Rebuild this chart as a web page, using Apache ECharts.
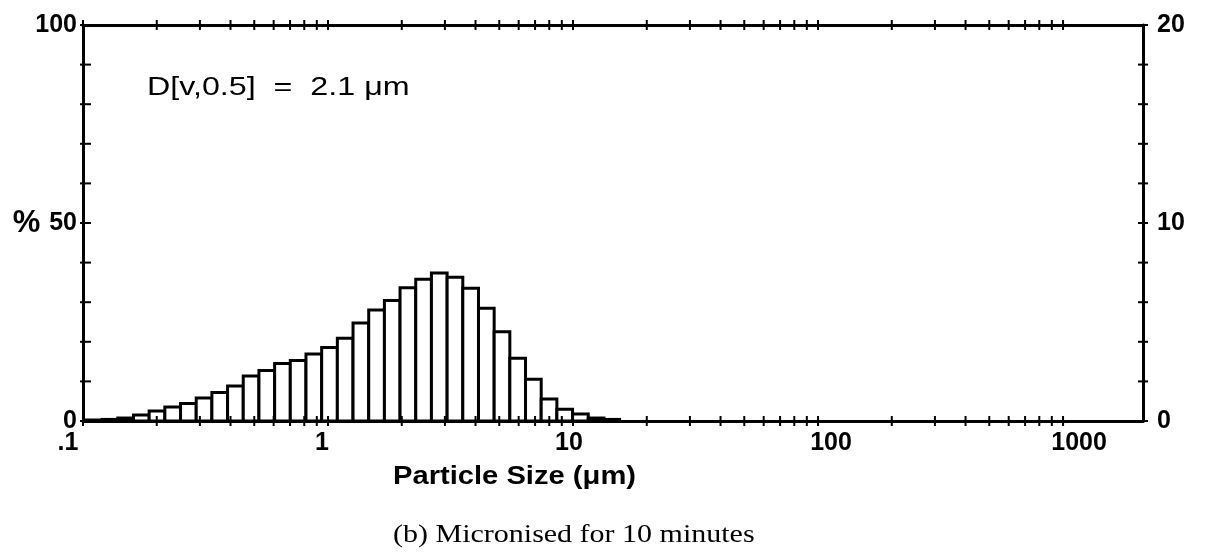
<!DOCTYPE html>
<html><head><meta charset="utf-8">
<script src="https://cdn.jsdelivr.net/npm/echarts@6/dist/echarts.min.js"></script>
<style>html,body{margin:0;padding:0;background:#fff}#c{width:1207px;height:556px}</style>
</head><body><div id="c"></div>
<script>
// Particle size bands (μm), lower/upper edges of each band
const binEdges = [0.1033, 0.1197, 0.1387, 0.1607, 0.1862, 0.2158, 0.2501, 0.2898, 0.3358, 0.3891,
  0.4509, 0.5225, 0.6055, 0.7016, 0.8130, 0.9421, 1.0917, 1.265, 1.466, 1.699,
  1.968, 2.281, 2.643, 3.063, 3.549, 4.113, 4.766, 5.522, 6.399, 7.415,
  8.592, 9.956, 11.54, 13.37, 15.49];
// Volume % in each band (right axis, 0-20)
const binValues = [0.05, 0.08, 0.15, 0.30, 0.50, 0.71, 0.89, 1.16, 1.44, 1.77,
  2.27, 2.55, 2.91, 3.06, 3.38, 3.71, 4.18, 4.95, 5.61, 6.09,
  6.73, 7.16, 7.47, 7.26, 6.70, 5.69, 4.51, 3.17, 2.11, 1.11,
  0.59, 0.35, 0.15, 0.08];
const xMin = 0.1, xMax = 2120;
const xTickValues = [0.1, 1, 10, 100, 1000];
const xTickLabels = ['.1', '1', '10', '100', '1000'];
const xMinorMultipliers = [2, 3, 4, 5, 6, 7, 8, 9];
const xMinorDecades = [0.1, 1, 10, 100];
const yLeftTicks = [0, 10, 20, 30, 40, 50, 60, 70, 80, 90, 100];
const yLeftLabels = ['0', '50', '100'];
const yRightLabels = ['0', '10', '20'];
const annotation = 'D[v,0.5]  =  2.1 μm';
const xTitle = 'Particle Size (μm)';
const caption = '(b) Micronised for 10 minutes';

const barData = binValues.map((v, i) => [binEdges[i], binEdges[i + 1], v]);
const xTickData = [];
xTickValues.forEach(v => xTickData.push([v, 0]));
xMinorDecades.forEach(d => xMinorMultipliers.forEach(m => xTickData.push([d * m, 0])));
const yTickData = yLeftTicks.map(v => [xMin, v]);

const labelFont = 'Liberation Sans, Arial, sans-serif';
const richX = {
  l0: {fontSize: 25, fontWeight: 'bold', fontFamily: labelFont, color: '#000', padding: [0, 30, 0, 0]},
  l1: {fontSize: 25, fontWeight: 'bold', fontFamily: labelFont, color: '#000', padding: [0, 12, 0, 0]},
  l2: {fontSize: 25, fontWeight: 'bold', fontFamily: labelFont, color: '#000', padding: [0, 8, 0, 0]},
  l3: {fontSize: 25, fontWeight: 'bold', fontFamily: labelFont, color: '#000', padding: [0, 0, 0, 26]},
  l4: {fontSize: 25, fontWeight: 'bold', fontFamily: labelFont, color: '#000', padding: [0, 0, 0, 32]}
};

const chart = echarts.init(document.getElementById('c'), null, {renderer: 'canvas'});
const axisLine = {show: true, onZero: false, lineStyle: {color: '#000', width: 3}};
chart.setOption({
  animation: false,
  backgroundColor: '#fff',
  grid: {left: 83, right: 64, top: 25, bottom: 135, containLabel: false},
  xAxis: [
    {type: 'log', logBase: 10, min: xMin, max: xMax, position: 'bottom',
      axisLine: axisLine, axisTick: {show: false}, splitLine: {show: false},
      axisLabel: {margin: 10, rich: richX, showMaxLabel: false,
        formatter: function (v) {
          const l = Math.log10(v); const r = Math.round(l);
          if (Math.abs(l - r) > 1e-6) return '';
          const idx = xTickValues.findIndex(t => Math.abs(Math.log10(t) - r) < 1e-6);
          if (idx < 0) return '';
          return '{l' + idx + '|' + xTickLabels[idx] + '}';
        }}},
    {type: 'log', logBase: 10, min: xMin, max: xMax, position: 'top',
      axisLine: axisLine, axisTick: {show: false}, axisLabel: {show: false}, splitLine: {show: false}}
  ],
  yAxis: [
    {type: 'value', min: 0, max: 100, interval: 50, position: 'left',
      axisLine: axisLine, axisTick: {show: false}, splitLine: {show: false},
      axisLabel: {margin: 6, fontSize: 25, fontWeight: 'bold', fontFamily: labelFont, color: '#000',
        rich: {p: {fontSize: 31, fontWeight: 'bold', fontFamily: labelFont, color: '#000', padding: [0, 9, 0, 0]},
               n: {fontSize: 25, fontWeight: 'bold', fontFamily: labelFont, color: '#000'}},
        formatter: function (v) {
          if (v === 50) return '{p|%}{n|' + yLeftLabels[1] + '}';
          return v === 0 ? yLeftLabels[0] : yLeftLabels[2];
        }}},
    {type: 'value', min: 0, max: 20, interval: 10, position: 'right',
      axisLine: axisLine, axisTick: {show: false}, splitLine: {show: false},
      axisLabel: {margin: 14, fontSize: 25, fontWeight: 'bold', fontFamily: labelFont, color: '#000',
        formatter: function (v) { return yRightLabels[Math.round(v / 10)]; }}}
  ],
  series: [
    {type: 'custom', xAxisIndex: 0, yAxisIndex: 1, clip: false, silent: true,
      encode: {x: [0, 1], y: 2}, data: barData,
      renderItem: function (params, api) {
        const p0 = api.coord([api.value(0), 0]);
        const p1 = api.coord([api.value(1), api.value(2)]);
        return {type: 'rect', shape: {x: p0[0], y: p1[1], width: p1[0] - p0[0], height: p0[1] - p1[1]},
          style: {fill: '#fff', stroke: '#000', lineWidth: 3}};
      }},
    {type: 'custom', xAxisIndex: 0, yAxisIndex: 1, clip: false, silent: true,
      encode: {x: 0, y: 1}, data: xTickData,
      renderItem: function (params, api) {
        const b = api.coord([api.value(0), 0]);
        const t = api.coord([api.value(0), 20]);
        const st = {stroke: '#000', lineWidth: 2};
        return {type: 'group', children: [
          {type: 'line', shape: {x1: b[0], y1: b[1] - 5, x2: b[0], y2: b[1] + 5}, style: st},
          {type: 'line', shape: {x1: t[0], y1: t[1] - 5, x2: t[0], y2: t[1] + 5}, style: st}
        ]};
      }},
    {type: 'custom', xAxisIndex: 0, yAxisIndex: 0, clip: false, silent: true,
      encode: {x: 0, y: 1}, data: yTickData,
      renderItem: function (params, api) {
        const l = api.coord([xMin, api.value(1)]);
        const r = api.coord([xMax, api.value(1)]);
        const st = {stroke: '#000', lineWidth: 2};
        return {type: 'group', children: [
          {type: 'line', shape: {x1: l[0] - 3, y1: l[1], x2: l[0] + 8, y2: l[1]}, style: st},
          {type: 'line', shape: {x1: r[0] - 5, y1: r[1], x2: r[0] + 5, y2: r[1]}, style: st}
        ]};
      }}
  ],
  graphic: [
    {type: 'text', x: 147, y: 88, scaleX: 1.24, silent: true,
      style: {text: annotation, font: '26px Liberation Sans, Arial, sans-serif', fill: '#000',
        textAlign: 'left', textVerticalAlign: 'middle'}},
    {type: 'text', x: 393, y: 477, scaleX: 1.166, silent: true,
      style: {text: xTitle, font: 'bold 25px Liberation Sans, Arial, sans-serif', fill: '#000',
        textAlign: 'left', textVerticalAlign: 'middle'}},
    {type: 'text', x: 393, y: 535, scaleX: 1.2, silent: true,
      style: {text: caption, font: '25px Liberation Serif, Times New Roman, serif', fill: '#000',
        textAlign: 'left', textVerticalAlign: 'middle'}}
  ]
});
</script></body></html>
